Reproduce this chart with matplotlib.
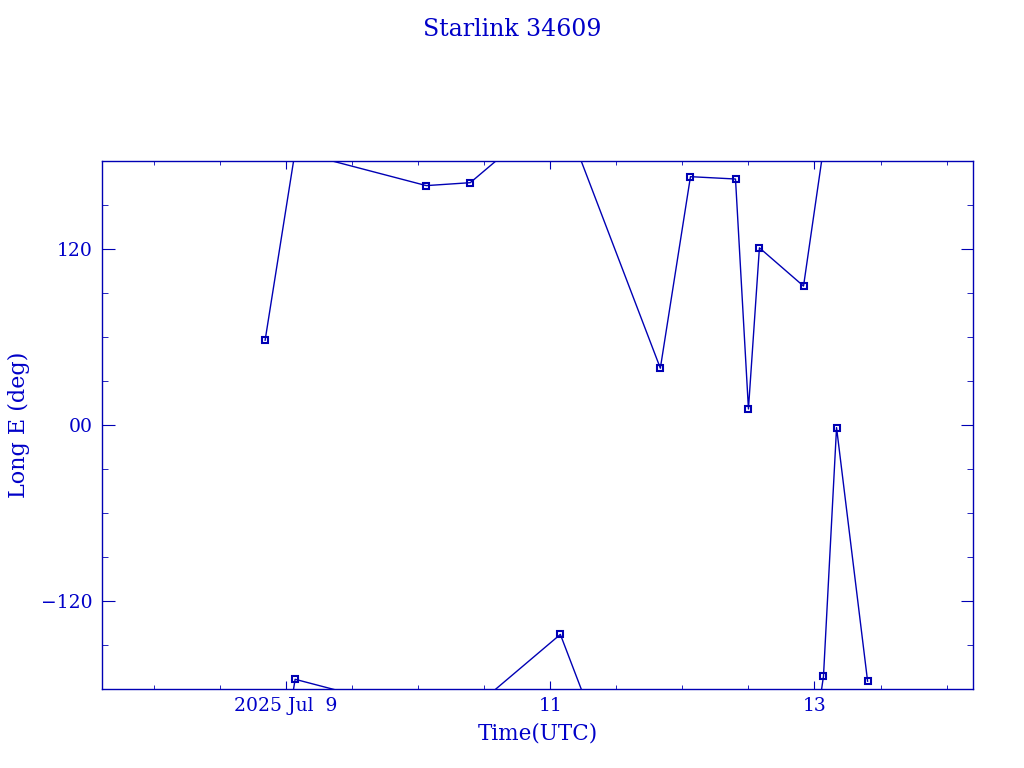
import numpy as np
import matplotlib
matplotlib.use("Agg")
import matplotlib.pyplot as plt
from matplotlib.ticker import FixedLocator, MultipleLocator

# Data (time as day of July 2025, UTC)
days = [8.841, 9.068, 10.061, 10.394, 11.076, 11.833, 12.061, 12.402,
        12.500, 12.583, 12.917, 13.068, 13.167, 13.402]
long_e = [57.8, -173.4, 163.2, 165.2, -142.8, 38.7, 169.3, 167.7,
          10.9, 120.8, 94.7, -171.3, -1.8, -174.7]

x_ticks = [9, 11, 13]
x_labels = ["2025 Jul  9", "11", "13"]
y_ticks = [-120, 0, 120]
y_labels = ["\u2212120", "00", "120"]

blue = "#0000b4"
txt = "#0000c8"
plt.rcParams["font.family"] = ["DejaVu Serif"]

fig = plt.figure(figsize=(10.24, 7.68), dpi=100)
ax = fig.add_axes([0.0996, 0.1029, 0.8506, 0.6875])

# connect points along the shortest way round, draw wrapped copies
lon_u = np.unwrap(np.array(long_e), period=360)
for shift in (-360, 0, 360):
    ax.plot(days, lon_u + shift, color=blue, lw=1.0, marker="s", ms=4,
            mfc="none", mec=blue, mew=1.5, clip_on=True)

ax.set_xlim(7.606, 14.2)
ax.set_ylim(-180, 180)

ax.xaxis.set_major_locator(FixedLocator(x_ticks))
ax.set_xticklabels(x_labels)
ax.xaxis.set_minor_locator(MultipleLocator(0.5))
ax.yaxis.set_major_locator(FixedLocator(y_ticks))
ax.set_yticklabels(y_labels)
ax.yaxis.set_minor_locator(MultipleLocator(30))

ax.tick_params(axis="both", which="both", direction="in", colors=blue,
               labelcolor=txt, top=True, right=True, labelsize=13.5)
ax.tick_params(axis="x", which="major", length=6, pad=6)
ax.tick_params(axis="x", which="minor", length=3)
ax.tick_params(axis="y", which="major", length=9, pad=7)
ax.tick_params(axis="y", which="minor", length=4)
for s in ax.spines.values():
    s.set_color(blue)
    s.set_linewidth(1.0)

ax.set_xlabel("Time(UTC)", color=txt, fontsize=15.5, labelpad=5)
ax.set_ylabel("Long E (deg)", color=txt, fontsize=16, labelpad=8)
fig.text(0.5, 0.961, "Starlink 34609", color=txt, fontsize=17,
         ha="center", va="center")

fig.savefig("out.png", dpi=100)
